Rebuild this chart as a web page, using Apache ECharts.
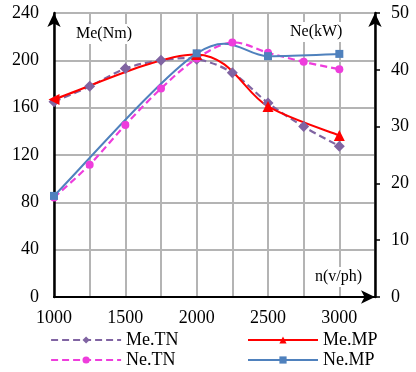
<!DOCTYPE html>
<html>
<head>
<meta charset="utf-8">
<script src="https://cdn.jsdelivr.net/npm/echarts@6/dist/echarts.min.js"></script>
<style>
  html, body { margin: 0; padding: 0; background: #fff; }
  #chart { width: 416px; height: 372px; }
</style>
</head>
<body>
<div id="chart"></div>
<script>
// speeds (v/ph)
const rpmTN = [1000, 1250, 1500, 1750, 2000, 2250, 2500, 2750, 3000];
const rpmMP = [1000, 2000, 2500, 3000];

// torque Me (Nm), left axis
const meTN = [165, 178, 193, 200, 201, 189.5, 164, 144, 127.5];
const meMP = [167, 205, 161, 136.5];

// power Ne (kW), right axis
const neTN = [17.5, 23.3, 30.3, 36.7, 42.0, 44.8, 43.0, 41.4, 40.1];
const neMP = [17.8, 42.9, 42.4, 42.8];

const xTicks = [1000, 1500, 2000, 2500, 3000];

const font = 'Liberation Serif';
const zip = (xs, ys) => xs.map((x, i) => [x, ys[i]]);

const chart = echarts.init(document.getElementById('chart'));

// spreadsheet-style smoothed line: cubic bezier, tangents (P[i+1]-P[i-1])/6 in pixels
function smoothPath(pts) {
  let d = 'M' + pts[0][0] + ' ' + pts[0][1];
  for (let i = 0; i < pts.length - 1; i++) {
    const p0 = pts[Math.max(i - 1, 0)];
    const p1 = pts[i];
    const p2 = pts[i + 1];
    const p3 = pts[Math.min(i + 2, pts.length - 1)];
    const c1x = p1[0] + (p2[0] - p0[0]) / 6;
    const c1y = p1[1] + (p2[1] - p0[1]) / 6;
    const c2x = p2[0] - (p3[0] - p1[0]) / 6;
    const c2y = p2[1] - (p3[1] - p1[1]) / 6;
    d += ' C' + c1x + ' ' + c1y + ' ' + c2x + ' ' + c2y + ' ' + p2[0] + ' ' + p2[1];
  }
  return d;
}

function curve(xs, ys, axis, color, width, dash) {
  return {
    type: 'custom',
    xAxisIndex: 0,
    yAxisIndex: axis,
    z: 1,
    silent: true,
    clip: false,
    data: zip(xs, ys),
    renderItem: (params, api) => {
      if (params.dataIndex !== 0) return;
      const pts = xs.map((x, i) => api.coord([x, ys[i]]));
      return {
        type: 'path',
        shape: { pathData: smoothPath(pts) },
        style: { stroke: color, lineWidth: width, fill: 'none', lineDash: dash || null }
      };
    }
  };
}

function markers(name, xs, ys, axis, symbol, size, color) {
  return {
    name: name,
    type: 'line',
    yAxisIndex: axis,
    z: 3,
    data: zip(xs, ys),
    symbol: symbol,
    symbolSize: size,
    itemStyle: { color: color },
    lineStyle: { color: color, opacity: 0 }
  };
}

const C_METN = '#8064a2';
const C_NETN = '#ee3ddc';
const C_MEMP = '#ff0000';
const C_NEMP = '#4f81bd';
const DASH = [7, 4];

// one legend per entry so each sits where the reference has it
const legendAt = (name, left, top, color, width, dash) => ({
  data: [name],
  left: left,
  top: top,
  padding: 0,
  itemWidth: 70,
  itemHeight: 9,
  lineStyle: { color: color, width: width, type: dash || 'solid', opacity: 1 },
  textStyle: { fontFamily: font, fontSize: 18, color: '#000' }
});

const axisArrow = { symbol: ['none', 'arrow'], symbolSize: [10, 14] };
const boxText = (text, left, top) => ({
  type: 'text',
  left: left,
  top: top,
  z: 100,
  style: {
    text: text,
    font: '16px "Liberation Serif"',
    fill: '#000',
    backgroundColor: '#fff',
    padding: [2, 1]
  }
});

const meMPMarks = markers('Me.MP', rpmMP, meMP, 0, 'triangle', 11, C_MEMP);
meMPMarks.data[0] = { value: meMPMarks.data[0], symbolRotate: 90 };

const option = {
  animation: false,
  textStyle: { fontFamily: font },
  grid: { left: 54, right: 41, top: 13, bottom: 75 },
  legend: [
    legendAt('Me.TN', 50, 331, C_METN, 2.2, DASH),
    legendAt('Ne.TN', 50, 351, C_NETN, 2.2, DASH),
    legendAt('Me.MP', 247, 331, C_MEMP, 2),
    legendAt('Ne.MP', 247, 351, C_NEMP, 2)
  ],
  xAxis: [
    {
      type: 'value',
      min: 1000,
      max: 3250,
      interval: 250,
      axisLine: Object.assign({ lineStyle: { color: '#000', width: 2 } }, axisArrow),
      axisTick: { show: false },
      axisLabel: {
        color: '#000',
        fontSize: 18,
        fontFamily: font,
        margin: 12,
        formatter: (v) => (xTicks.includes(v) ? String(v) : '')
      },
      splitLine: { lineStyle: { color: '#b4b4b4', width: 2 } }
    },
    {
      type: 'value',
      position: 'top',
      min: 1000,
      max: 3250,
      axisLine: { show: true, lineStyle: { color: '#000', width: 1.5 } },
      axisTick: { show: false },
      axisLabel: { show: false },
      splitLine: { show: false }
    }
  ],
  yAxis: [
    {
      type: 'value',
      min: 0,
      max: 240,
      interval: 40,
      axisLine: Object.assign({ show: true, lineStyle: { color: '#000', width: 2.5 } }, axisArrow),
      axisTick: { show: false },
      axisLabel: { color: '#000', fontSize: 18, fontFamily: font, margin: 15 },
      splitLine: { lineStyle: { color: '#b4b4b4', width: 2 } }
    },
    {
      type: 'value',
      min: 0,
      max: 50,
      interval: 10,
      position: 'right',
      axisLine: Object.assign({ show: true, lineStyle: { color: '#000', width: 2.5 } }, axisArrow),
      axisTick: { show: true, length: 5, lineStyle: { color: '#000', width: 1.5 } },
      axisLabel: { color: '#000', fontSize: 18, fontFamily: font, margin: 16 },
      splitLine: { show: false }
    }
  ],
  graphic: [
    boxText('Me(Nm)', 75, 24),
    boxText('Ne(kW)', 289, 22),
    boxText('n(v/ph)', 314, 267)
  ],
  series: [
    curve(rpmTN, meTN, 0, C_METN, 2.2, DASH),
    curve(rpmTN, neTN, 1, C_NETN, 2.2, DASH),
    curve(rpmMP, meMP, 0, C_MEMP, 2),
    curve(rpmMP, neMP, 1, C_NEMP, 2),
    markers('Me.TN', rpmTN, meTN, 0, 'diamond', 11, C_METN),
    markers('Ne.TN', rpmTN, neTN, 1, 'circle', 8, C_NETN),
    meMPMarks,
    markers('Ne.MP', rpmMP, neMP, 1, 'rect', 8, C_NEMP)
  ]
};

chart.setOption(option);
</script>
</body>
</html>
